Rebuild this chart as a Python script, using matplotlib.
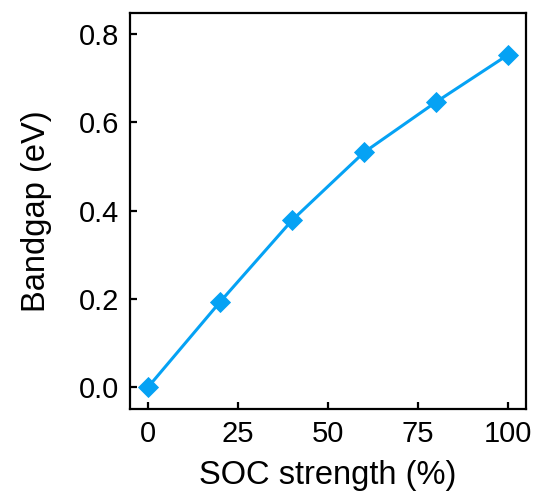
import matplotlib
matplotlib.use("Agg")
import matplotlib.pyplot as plt

soc_strength = [0, 20, 40, 60, 80, 100]
bandgap = [0.0, 0.193, 0.378, 0.532, 0.646, 0.753]

x_ticks = [0, 25, 50, 75, 100]
y_ticks = [0.0, 0.2, 0.4, 0.6, 0.8]

plt.rcParams['font.family'] = ['Liberation Sans', 'DejaVu Sans']

fig = plt.figure(figsize=(5.36, 4.98), dpi=100)
ax = fig.add_axes([0.2425, 0.179, 0.7385, 0.794])

color = '#05A2F4'
ax.plot(soc_strength, bandgap, '-', color=color, lw=2.2,
        marker='D', markersize=10, markerfacecolor=color, markeredgecolor=color, markeredgewidth=0.6)

ax.set_xlim(-5, 105)
ax.set_ylim(-0.049, 0.847)
ax.set_xticks(x_ticks)
ax.set_yticks(y_ticks)
ax.set_yticklabels(['%.1f' % v for v in y_ticks])

for s in ax.spines.values():
    s.set_linewidth(1.6)
ax.tick_params(direction='in', width=1.6, length=5, labelsize=21, pad=8)

ax.set_xlabel('SOC strength (%)', fontsize=23.5, labelpad=9)
ax.set_ylabel('Bandgap (eV)', fontsize=23.5, labelpad=19)

fig.savefig('out.png', dpi=100)
